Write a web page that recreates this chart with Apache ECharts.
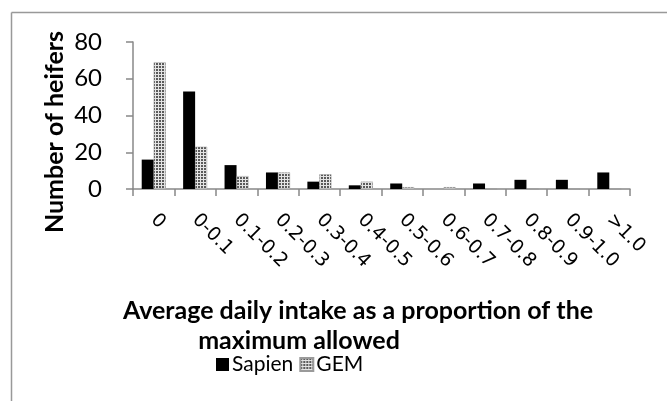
<!DOCTYPE html>
<html>
<head>
<meta charset="utf-8">
<script src="https://cdn.jsdelivr.net/npm/echarts@6/dist/echarts.min.js"></script>
<style>html,body{margin:0;padding:0;background:#fff;}#c{width:667px;height:401px;}</style>
</head>
<body>
<div id="c"></div>
<script>
const categories = ['0','0-0.1','0.1-0.2','0.2-0.3','0.3-0.4','0.4-0.5','0.5-0.6','0.6-0.7','0.7-0.8','0.8-0.9','0.9-1.0','>1.0'];
const sapien = [16,53,13,9,4,2,3,0,3,5,5,9];
const gem = [69,23,7,9,8,4,1,1,0,0,0,0];
const yTicks = [0,20,40,60,80];

function makePattern(){
  const cv = document.createElement('canvas');
  cv.width = 3; cv.height = 3;
  const ctx = cv.getContext('2d');
  ctx.fillStyle = '#e4e4e4';
  ctx.fillRect(0,0,3,3);
  ctx.fillStyle = '#5a5a5a';
  ctx.fillRect(0,0,2,2);
  return cv;
}
const pat = {image: makePattern(), repeat: 'repeat'};

const chart = echarts.init(document.getElementById('c'), null, {renderer:'canvas'});
chart.setOption({
  animation: false,
  backgroundColor: '#fff',
  grid: {left: 133, right: 37, top: 42, bottom: 212, containLabel: false},
  legend: {
    left: 211, top: 349,
    itemWidth: 13, itemHeight: 13, itemGap: 6,
    icon: 'rect',
    textStyle: {fontFamily: 'Lato', fontSize: 21, color: '#000', padding: [0,0,0,-2]},
    data: ['Sapien','GEM']
  },
  xAxis: {
    type: 'category',
    data: categories,
    axisLine: {lineStyle: {color: '#888', width: 1.5}},
    axisTick: {show: true, length: 7, lineStyle: {color: '#888', width: 1.5}},
    axisLabel: {rotate: -45, margin: 28, fontFamily: 'DejaVu Sans', fontSize: 19, color: '#000', interval: 0}
  },
  yAxis: {
    type: 'value',
    min: 0, max: 80, interval: 20,
    splitLine: {show: false},
    axisLine: {show: true, lineStyle: {color: '#888', width: 1.5}},
    axisTick: {show: true, length: 7, lineStyle: {color: '#888', width: 1.5}},
    axisLabel: {margin: 31, fontFamily: 'Lato', fontSize: 24, color: '#000',
      formatter: v => yTicks.includes(v) ? String(v) : ''}
  },
  series: [
    {name: 'Sapien', type: 'bar', data: sapien, barWidth: 12, barGap: '0%', itemStyle: {color: '#000'}},
    {name: 'GEM', type: 'bar', data: gem, barWidth: 12, itemStyle: {color: pat, borderColor: '#9a9a9a', borderWidth: 0.5}}
  ],
  graphic: [
    {type: 'line', shape: {x1: 11.5, y1: 12.5, x2: 667, y2: 12.5}, style: {stroke: '#999', lineWidth: 1.5}},
    {type: 'line', shape: {x1: 11.5, y1: 12.5, x2: 11.5, y2: 401}, style: {stroke: '#999', lineWidth: 1.5}},
    {type: 'text', x: 55, y: 132, rotation: Math.PI/2,
      style: {text: 'Number of heifers', fontFamily: 'Lato', fontWeight: 'bold', fontSize: 25, fill: '#000', align: 'center', verticalAlign: 'middle'}},
    {type: 'text', x: 358, y: 311,
      style: {text: 'Average daily intake as a proportion of the', fontFamily: 'Lato', fontWeight: 'bold', fontSize: 25, fill: '#000', align: 'center', verticalAlign: 'middle'}},
    {type: 'text', x: 299, y: 341,
      style: {text: 'maximum allowed', fontFamily: 'Lato', fontWeight: 'bold', fontSize: 25, fill: '#000', align: 'center', verticalAlign: 'middle'}}
  ]
});
</script>
</body>
</html>
